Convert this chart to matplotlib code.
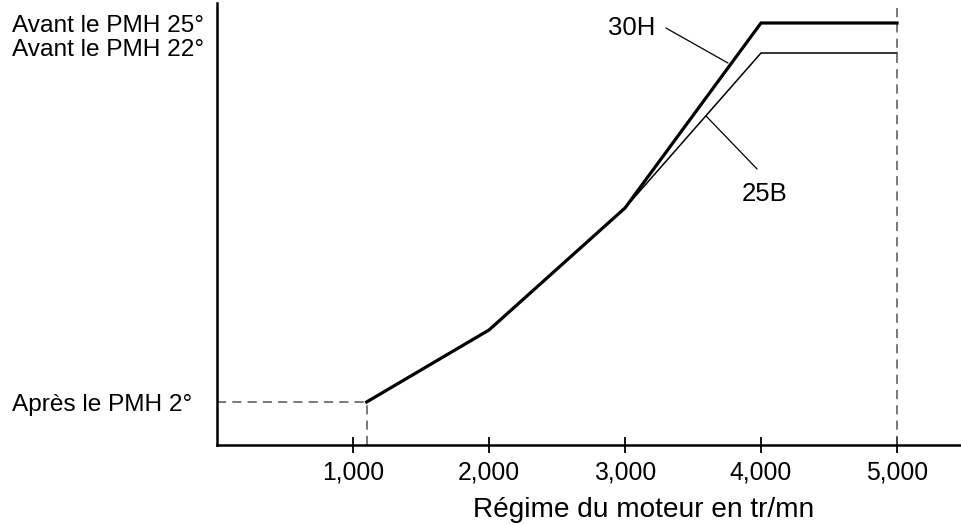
import matplotlib.pyplot as plt
from matplotlib.transforms import ScaledTranslation

plt.rcParams['font.family'] = ['Liberation Sans', 'DejaVu Sans']

# Régime (tr/mn) et position schématique de l'avance (hauteur sur l'axe)
regime = [1100, 2000, 3000, 4000, 5000]
avance_30h = [43, 115, 237, 422, 422]
avance_25b = [43, 115, 237, 392, 392]

xticks = [1000, 2000, 3000, 4000, 5000]
xtick_labels = ['1,000', '2,000', '3,000', '4,000', '5,000']
yticks = [43, 392, 422]
ytick_labels = ['Après le PMH 2°', 'Avant le PMH 22°', 'Avant le PMH 25°']

fig = plt.figure(figsize=(9.62, 5.25), dpi=100)
ax = fig.add_axes([217 / 962, 1 - 445 / 525, 1 - 217 / 962, 442 / 525])

grey = '#555555'
ax.plot([0, regime[0]], [avance_30h[0], avance_30h[0]], color=grey, lw=1.1, ls=(0, (6, 4)))
ax.plot([regime[0], regime[0]], [0, avance_30h[0]], color=grey, lw=1.1, ls=(0, (6, 4)))
ax.axvline(regime[-1], color=grey, lw=1.1, ls=(0, (6, 4)))

ax.plot(regime, avance_25b, color='black', lw=1.1, solid_joinstyle='miter')
ax.plot(regime, avance_30h, color='black', lw=2.3, solid_joinstyle='miter')

# étiquettes des courbes
ax.annotate('', xy=(3757, 382), xytext=(3301, 417),
            arrowprops=dict(arrowstyle='-', color='black', lw=0.9, shrinkA=0, shrinkB=0))
ax.text(3051, 417, '30H', fontsize=18.5, ha='center', va='center')
ax.annotate('', xy=(3596, 329), xytext=(3971, 276),
            arrowprops=dict(arrowstyle='-', color='black', lw=0.9, shrinkA=0, shrinkB=0))
ax.text(4029, 251, '25B', fontsize=18.5, ha='center', va='center')

ax.set_xlim(0, 5478)
ax.set_ylim(0, 442)
ax.set_xticks(xticks, xtick_labels, fontsize=17.8)
ax.set_yticks(yticks, ytick_labels, fontsize=17.6)
ax.tick_params(axis='x', direction='inout', length=11, width=1.3, pad=6)
ax.tick_params(axis='y', length=0, pad=(217 - 12) * 0.72)
for lab in ax.get_yticklabels():
    lab.set_horizontalalignment('left')
ax.get_yticklabels()[1].set_transform(
    ax.get_yticklabels()[1].get_transform() + ScaledTranslation(0, 6 / 100, fig.dpi_scale_trans))

for side in ['top', 'right']:
    ax.spines[side].set_visible(False)
for side in ['left', 'bottom']:
    ax.spines[side].set_linewidth(1.8)

ax.text(0.573, -0.163, 'Régime du moteur en tr/mn', transform=ax.transAxes,
        fontsize=20.2, ha='center', va='baseline')

fig.savefig('out.png', dpi=100)
